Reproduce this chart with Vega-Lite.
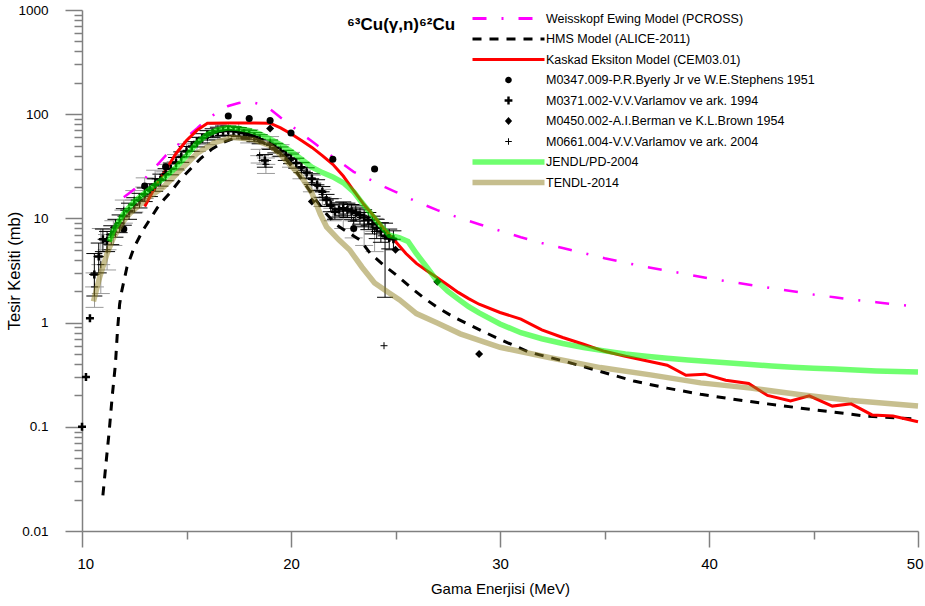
{
  "$schema": "https://vega.github.io/schema/vega-lite/v6.json",
  "width": 836,
  "height": 521,
  "autosize": {"type": "none"},
  "padding": {"left": 82, "top": 10, "right": 7, "bottom": 75},
  "background": "white",
  "config": {"view": {"stroke": null}, "font": "Liberation Sans"},
  "title": {"text": "⁶³Cu(γ,n)⁶²Cu", "anchor": "start", "frame": "group", "orient": "top", "dx": 265, "offset": -44, "baseline": "alphabetic", "font": "Liberation Sans", "fontSize": 17, "fontWeight": "bold", "color": "#000000"},
  "resolve": {"axis": {"x": "independent", "y": "independent"}},
  "params": [{"name": "sty", "value": {
    "Weisskopf Ewing Model (PCROSS)": {"sh": "M-6,0H6", "fi": "transparent", "so": 1, "da": [14, 15, 2, 15], "op": 1},
    "HMS Model (ALICE-2011)": {"sh": "M-6,0H6", "fi": "transparent", "so": 1, "da": [9, 8], "op": 1},
    "Kaskad Eksiton Model (CEM03.01)": {"sh": "M-6,0H6", "fi": "transparent", "so": 1, "da": [1, 0], "op": 1},
    "M0347.009-P.R.Byerly Jr ve W.E.Stephens 1951": {"sh": "M-0.55,0A0.55,0.55,0,1,1,0.55,0A0.55,0.55,0,1,1,-0.55,0Z", "fi": "#000000", "so": 0, "da": [1, 0], "op": 1},
    "M0371.002-V.V.Varlamov ve ark. 1994": {"sh": "M-0.65,-0.2H-0.2V-0.65H0.2V-0.2H0.65V0.2H0.2V0.65H-0.2V0.2H-0.65Z", "fi": "#000000", "so": 0, "da": [1, 0], "op": 1},
    "M0450.002-A.I.Berman ve K.L.Brown 1954": {"sh": "M0,-0.65L0.6,0L0,0.65L-0.6,0Z", "fi": "#000000", "so": 0, "da": [1, 0], "op": 1},
    "M0661.004-V.V.Varlamov ve ark. 2004": {"sh": "M-0.55,-0.085H-0.085V-0.55H0.085V-0.085H0.55V0.085H0.085V0.55H-0.085V0.085H-0.55Z", "fi": "#000000", "so": 0, "da": [1, 0], "op": 1},
    "JENDL/PD-2004": {"sh": "M-6,-0.46H6V0.46H-6Z", "fi": "#00ff00", "so": 0, "da": [1, 0], "op": 0.56},
    "TENDL-2014": {"sh": "M-6,-0.46H6V0.46H-6Z", "fi": "#8f7f1f", "so": 0, "da": [1, 0], "op": 0.5}
  }}],
  "datasets": {
    "W": [{"E":12,"s":16},{"E":12.5,"s":19},{"E":13,"s":24},{"E":13.5,"s":31},{"E":14,"s":40},{"E":14.5,"s":49},{"E":15,"s":60},{"E":15.5,"s":73},{"E":16,"s":90},{"E":16.5,"s":105},{"E":17,"s":120},{"E":17.5,"s":128},{"E":18,"s":132},{"E":18.5,"s":125},{"E":19,"s":112},{"E":19.5,"s":93},{"E":20,"s":78},{"E":20.5,"s":65},{"E":21,"s":55},{"E":21.5,"s":46},{"E":22,"s":39},{"E":22.5,"s":33},{"E":23,"s":28},{"E":23.5,"s":25},{"E":24,"s":22.5},{"E":24.5,"s":20},{"E":25,"s":18},{"E":26,"s":14.5},{"E":27,"s":12},{"E":28,"s":10.2},{"E":29,"s":8.8},{"E":30,"s":7.6},{"E":31,"s":6.6},{"E":32,"s":5.8},{"E":33,"s":5.2},{"E":34,"s":4.65},{"E":35,"s":4.15},{"E":36,"s":3.75},{"E":37,"s":3.42},{"E":38,"s":3.15},{"E":39,"s":2.9},{"E":40,"s":2.65},{"E":41,"s":2.47},{"E":42,"s":2.3},{"E":43,"s":2.14},{"E":44,"s":2.0},{"E":45,"s":1.86},{"E":46,"s":1.75},{"E":47,"s":1.65},{"E":48,"s":1.57},{"E":49,"s":1.49},{"E":50,"s":1.42}],
    "H": [{"E":11,"s":0.022},{"E":11.15,"s":0.045},{"E":11.3,"s":0.09},{"E":11.45,"s":0.2},{"E":11.6,"s":0.4},{"E":11.7,"s":0.85},{"E":11.8,"s":1.5},{"E":11.9,"s":2.0},{"E":12.15,"s":3.4},{"E":12.5,"s":5.3},{"E":12.9,"s":7.6},{"E":13.25,"s":9.8},{"E":13.6,"s":12.6},{"E":13.9,"s":15},{"E":14.2,"s":17.5},{"E":14.7,"s":23.5},{"E":15.2,"s":30},{"E":15.7,"s":38},{"E":16.2,"s":46},{"E":16.7,"s":53},{"E":17.2,"s":58},{"E":17.7,"s":60},{"E":18.2,"s":58},{"E":18.7,"s":53},{"E":19.2,"s":46},{"E":19.7,"s":38},{"E":20.2,"s":29},{"E":20.7,"s":21},{"E":21.2,"s":15},{"E":21.7,"s":11},{"E":22.2,"s":8.6},{"E":22.7,"s":7.4},{"E":23.3,"s":6.2},{"E":23.8,"s":4.6},{"E":24.4,"s":3.6},{"E":25.1,"s":2.8},{"E":25.7,"s":2.2},{"E":26.3,"s":1.76},{"E":27,"s":1.4},{"E":27.75,"s":1.14},{"E":28.5,"s":0.96},{"E":29.2,"s":0.82},{"E":30,"s":0.69},{"E":31.4,"s":0.52},{"E":33.2,"s":0.42},{"E":34.8,"s":0.34},{"E":36.4,"s":0.275},{"E":38,"s":0.235},{"E":39.6,"s":0.205},{"E":41.1,"s":0.185},{"E":42.8,"s":0.166},{"E":44.4,"s":0.151},{"E":45.9,"s":0.139},{"E":47.6,"s":0.126},{"E":49.5,"s":0.12},{"E":50,"s":0.118}],
    "K": [{"E":13,"s":13},{"E":13.5,"s":20},{"E":14,"s":29},{"E":14.5,"s":42},{"E":15,"s":56},{"E":15.5,"s":70},{"E":16,"s":82},{"E":17,"s":82.5},{"E":18,"s":82.5},{"E":19,"s":82},{"E":19.5,"s":74},{"E":20,"s":65},{"E":20.5,"s":56},{"E":21,"s":48},{"E":21.5,"s":40},{"E":22,"s":33},{"E":22.5,"s":25.5},{"E":23,"s":18.5},{"E":23.5,"s":13.5},{"E":24,"s":10.3},{"E":24.5,"s":7.7},{"E":25,"s":6},{"E":25.5,"s":4.6},{"E":26,"s":3.7},{"E":26.5,"s":3.15},{"E":27,"s":2.7},{"E":27.5,"s":2.3},{"E":28,"s":1.95},{"E":28.5,"s":1.7},{"E":29,"s":1.5},{"E":30,"s":1.25},{"E":31,"s":1.08},{"E":32,"s":0.85},{"E":33,"s":0.72},{"E":34,"s":0.62},{"E":35,"s":0.53},{"E":36,"s":0.475},{"E":37,"s":0.43},{"E":38,"s":0.39},{"E":38.9,"s":0.312},{"E":39.8,"s":0.32},{"E":40.8,"s":0.28},{"E":41.9,"s":0.26},{"E":42.8,"s":0.2},{"E":43.9,"s":0.177},{"E":44.8,"s":0.198},{"E":45.9,"s":0.158},{"E":46.8,"s":0.166},{"E":47.8,"s":0.13},{"E":48.8,"s":0.127},{"E":50,"s":0.112}],
    "J": [{"E":11.3,"s":6},{"E":11.5,"s":7.6},{"E":12,"s":11.2},{"E":12.5,"s":14.5},{"E":13,"s":17.5},{"E":13.5,"s":21},{"E":14,"s":25},{"E":14.5,"s":31},{"E":15,"s":40},{"E":15.5,"s":53},{"E":16,"s":64},{"E":16.5,"s":71},{"E":17,"s":74},{"E":17.5,"s":73},{"E":18,"s":70},{"E":18.5,"s":65},{"E":19,"s":58},{"E":19.5,"s":51},{"E":20,"s":44},{"E":20.5,"s":37},{"E":21,"s":31},{"E":21.5,"s":27.5},{"E":22,"s":25},{"E":22.5,"s":22},{"E":23,"s":18},{"E":23.3,"s":15},{"E":23.8,"s":11.2},{"E":24.3,"s":8.5},{"E":24.7,"s":6.9},{"E":25.2,"s":6.5},{"E":25.6,"s":6.0},{"E":26,"s":4.6},{"E":26.5,"s":3.4},{"E":27,"s":2.5},{"E":27.5,"s":2.0},{"E":28,"s":1.68},{"E":28.5,"s":1.42},{"E":29,"s":1.24},{"E":30,"s":0.97},{"E":31,"s":0.8},{"E":32,"s":0.7},{"E":33,"s":0.63},{"E":34,"s":0.575},{"E":35,"s":0.535},{"E":36,"s":0.5},{"E":37,"s":0.475},{"E":38,"s":0.455},{"E":39,"s":0.438},{"E":40,"s":0.423},{"E":41,"s":0.41},{"E":42,"s":0.396},{"E":43,"s":0.384},{"E":44,"s":0.373},{"E":45,"s":0.365},{"E":46,"s":0.358},{"E":47,"s":0.35},{"E":48,"s":0.344},{"E":49,"s":0.34},{"E":50,"s":0.335}],
    "T": [{"E":10.55,"s":1.6},{"E":10.85,"s":2.75},{"E":11.2,"s":4.6},{"E":11.5,"s":6.5},{"E":12,"s":9.5},{"E":12.3,"s":11.2},{"E":13.1,"s":15.5},{"E":13.9,"s":20},{"E":14.7,"s":29},{"E":15.5,"s":42},{"E":16.3,"s":53},{"E":17.2,"s":60},{"E":18.2,"s":57},{"E":19,"s":50},{"E":19.5,"s":41},{"E":20,"s":32},{"E":20.5,"s":25},{"E":21,"s":17.5},{"E":21.4,"s":11},{"E":21.7,"s":8.3},{"E":22.3,"s":6.2},{"E":22.8,"s":5},{"E":23.4,"s":3.4},{"E":24,"s":2.4},{"E":24.7,"s":1.92},{"E":25.2,"s":1.65},{"E":26,"s":1.22},{"E":27,"s":0.99},{"E":28.1,"s":0.78},{"E":30,"s":0.58},{"E":32.4,"s":0.46},{"E":34.8,"s":0.37},{"E":37.2,"s":0.315},{"E":39.6,"s":0.264},{"E":42,"s":0.235},{"E":44.4,"s":0.203},{"E":46.7,"s":0.18},{"E":50,"s":0.158}],
    "P1": [{"E":12,"s":7.9},{"E":13,"s":20.5},{"E":14,"s":31.3},{"E":17,"s":96},{"E":18,"s":91},{"E":19,"s":87},{"E":20,"s":66},{"E":22,"s":37},{"E":23,"s":8},{"E":24,"s":29.8}],
    "P3": [{"E":19,"s":73},{"E":21,"s":14.5},{"E":25,"s":5.0},{"E":27,"s":2.47},{"E":29,"s":0.5}],
    "P2": [{"E":10.0,"s":0.1},{"E":10.19,"s":0.3},{"E":10.38,"s":1.1},
      {"E":10.59,"s":2.9,"lo":1.8,"hi":4.6,"elo":10.34,"ehi":10.84},
      {"E":10.8,"s":4.3,"lo":3.0,"hi":5.8,"elo":10.55,"ehi":11.05},
      {"E":11.0,"s":6.3,"lo":4.8,"hi":7.9,"elo":10.75,"ehi":11.25},
      {"E":11.2,"s":6.1,"lo":4.8,"hi":7.5,"elo":10.95,"ehi":11.45},
      {"E":11.4,"s":7.0,"lo":5.6,"hi":8.5,"elo":11.15,"ehi":11.65},
      {"E":11.6,"s":8.2,"lo":6.6,"hi":9.8,"elo":11.35,"ehi":11.85},
      {"E":11.8,"s":9.0,"lo":7.3,"hi":10.8,"elo":11.55,"ehi":12.05},
      {"E":12.0,"s":10.5,"lo":8.6,"hi":12.4,"elo":11.7,"ehi":12.3},
      {"E":12.25,"s":11.8,"lo":9.8,"hi":14,"elo":11.95,"ehi":12.55},
      {"E":12.5,"s":13.5,"lo":11.3,"hi":15.8,"elo":12.2,"ehi":12.8},
      {"E":12.75,"s":15,"lo":12.6,"hi":17.4,"elo":12.45,"ehi":13.05},
      {"E":13.0,"s":17,"lo":14.5,"hi":19.6,"elo":12.7,"ehi":13.3},
      {"E":13.25,"s":18.8,"lo":16.2,"hi":21.5,"elo":12.95,"ehi":13.55},
      {"E":13.5,"s":21,"lo":18.2,"hi":24,"elo":13.2,"ehi":13.8},
      {"E":13.75,"s":23.5,"lo":20.4,"hi":26.6,"elo":13.45,"ehi":14.05},
      {"E":14.0,"s":26.5,"lo":23,"hi":30,"elo":13.7,"ehi":14.3},
      {"E":14.25,"s":30,"lo":26.2,"hi":34,"elo":13.95,"ehi":14.55},
      {"E":14.5,"s":34,"lo":29.8,"hi":38.4,"elo":14.2,"ehi":14.8},
      {"E":14.75,"s":39,"lo":34.5,"hi":43.5,"elo":14.45,"ehi":15.05},
      {"E":15.0,"s":44,"lo":39,"hi":49,"elo":14.7,"ehi":15.3},
      {"E":15.25,"s":49,"lo":44,"hi":54.5,"elo":14.95,"ehi":15.55},
      {"E":15.5,"s":54,"lo":48.5,"hi":60,"elo":15.2,"ehi":15.8},
      {"E":15.75,"s":59,"lo":53,"hi":65,"elo":15.45,"ehi":16.05},
      {"E":16.0,"s":63,"lo":56.5,"hi":69.5,"elo":15.7,"ehi":16.3},
      {"E":16.25,"s":66,"lo":59.5,"hi":72.5,"elo":15.95,"ehi":16.55},
      {"E":16.5,"s":68,"lo":61.5,"hi":75,"elo":16.2,"ehi":16.8},
      {"E":16.75,"s":69.5,"lo":62.5,"hi":77,"elo":16.45,"ehi":17.05},
      {"E":17.0,"s":70,"lo":63,"hi":77,"elo":16.7,"ehi":17.3},
      {"E":17.25,"s":69,"lo":62,"hi":76,"elo":16.95,"ehi":17.55},
      {"E":17.5,"s":67.5,"lo":61,"hi":74.5,"elo":17.2,"ehi":17.8},
      {"E":17.75,"s":65.5,"lo":59,"hi":72,"elo":17.45,"ehi":18.05},
      {"E":18.0,"s":63,"lo":57,"hi":69.5,"elo":17.7,"ehi":18.3},
      {"E":18.25,"s":60.5,"lo":54.5,"hi":66.5,"elo":17.95,"ehi":18.55},
      {"E":18.5,"s":57.5,"lo":52,"hi":63.5,"elo":18.2,"ehi":18.8},
      {"E":18.75,"s":36,"lo":31,"hi":41,"elo":18.45,"ehi":19.05},
      {"E":19.0,"s":51,"lo":46,"hi":56.5,"elo":18.7,"ehi":19.3},
      {"E":19.25,"s":47.5,"lo":42.5,"hi":52.5,"elo":18.95,"ehi":19.55},
      {"E":19.5,"s":44,"lo":39.5,"hi":48.5,"elo":19.2,"ehi":19.8},
      {"E":19.75,"s":40.5,"lo":36,"hi":45,"elo":19.45,"ehi":20.05},
      {"E":20.0,"s":37.5,"lo":33.5,"hi":41.5,"elo":19.7,"ehi":20.3},
      {"E":20.25,"s":34,"lo":30.3,"hi":37.8,"elo":19.95,"ehi":20.55},
      {"E":20.5,"s":31,"lo":27.5,"hi":34.5,"elo":20.2,"ehi":20.8},
      {"E":20.75,"s":27.5,"lo":24.4,"hi":30.6,"elo":20.45,"ehi":21.05},
      {"E":21.0,"s":24,"lo":21.2,"hi":26.8,"elo":20.65,"ehi":21.35},
      {"E":21.25,"s":21,"lo":18.5,"hi":23.5,"elo":20.9,"ehi":21.6},
      {"E":21.5,"s":18,"lo":15.8,"hi":20.2,"elo":21.15,"ehi":21.85},
      {"E":21.7,"s":15,"lo":13,"hi":17,"elo":21.35,"ehi":22.05},
      {"E":21.9,"s":13.5,"lo":11.6,"hi":15.4,"elo":21.55,"ehi":22.25},
      {"E":22.1,"s":11.6,"lo":9.8,"hi":13.5,"elo":21.75,"ehi":22.45},
      {"E":22.3,"s":12.2,"lo":10.3,"hi":14.1,"elo":21.95,"ehi":22.65},
      {"E":22.5,"s":12.5,"lo":10.6,"hi":14.4,"elo":22.15,"ehi":22.85},
      {"E":22.7,"s":12.1,"lo":10.2,"hi":14,"elo":22.35,"ehi":23.05},
      {"E":22.9,"s":11.7,"lo":9.8,"hi":13.6,"elo":22.55,"ehi":23.25},
      {"E":23.1,"s":11.3,"lo":9.4,"hi":13.2,"elo":22.75,"ehi":23.45},
      {"E":23.3,"s":10.7,"lo":8.8,"hi":12.6,"elo":22.95,"ehi":23.65},
      {"E":23.5,"s":10.2,"lo":8.3,"hi":12.1,"elo":23.15,"ehi":23.85},
      {"E":23.7,"s":9.6,"lo":7.8,"hi":11.4,"elo":23.35,"ehi":24.05},
      {"E":23.9,"s":8.8,"lo":7.1,"hi":10.5,"elo":23.55,"ehi":24.25},
      {"E":24.1,"s":8.1,"lo":6.4,"hi":9.8,"elo":23.75,"ehi":24.45},
      {"E":24.3,"s":7.5,"lo":5.9,"hi":9.1,"elo":23.95,"ehi":24.65},
      {"E":24.5,"s":6.8,"lo":1.75,"hi":9.0,"elo":24.15,"ehi":24.85},
      {"E":24.7,"s":6.5,"lo":5.1,"hi":7.9,"elo":24.35,"ehi":25.05},
      {"E":24.9,"s":6.3,"lo":5.0,"hi":7.6,"elo":24.55,"ehi":25.25}],
    "P4": [{"E":10.6,"s":2.2,"lo":1.4,"hi":3.0,"elo":10.15,"ehi":11.05},
      {"E":10.9,"s":3.6,"lo":1.9,"hi":8.0,"elo":10.45,"ehi":11.35},
      {"E":11.2,"s":5.0,"lo":3.2,"hi":7.0,"elo":10.75,"ehi":11.65},
      {"E":11.5,"s":7.5,"lo":5.5,"hi":9.5,"elo":11.05,"ehi":11.95},
      {"E":12.0,"s":12,"lo":9,"hi":15,"elo":11.55,"ehi":12.45},
      {"E":12.5,"s":15,"lo":11.5,"hi":18.5,"elo":12.05,"ehi":12.95},
      {"E":13.0,"s":20,"lo":15.5,"hi":24.5,"elo":12.55,"ehi":13.45},
      {"E":13.5,"s":24,"lo":19.5,"hi":29,"elo":13.05,"ehi":13.95},
      {"E":14.0,"s":28,"lo":23,"hi":33,"elo":13.55,"ehi":14.45},
      {"E":14.5,"s":35,"lo":29,"hi":41,"elo":14.05,"ehi":14.95},
      {"E":15.0,"s":45,"lo":38,"hi":52,"elo":14.55,"ehi":15.45},
      {"E":15.5,"s":52,"lo":44,"hi":60,"elo":15.05,"ehi":15.95},
      {"E":16.0,"s":60,"lo":51,"hi":70,"elo":15.55,"ehi":16.45},
      {"E":16.5,"s":67,"lo":57,"hi":80,"elo":16.05,"ehi":16.95},
      {"E":17.0,"s":69,"lo":58,"hi":82,"elo":16.55,"ehi":17.45},
      {"E":17.5,"s":67,"lo":57,"hi":82,"elo":17.05,"ehi":17.95},
      {"E":18.0,"s":62,"lo":53,"hi":71,"elo":17.55,"ehi":18.45},
      {"E":18.5,"s":40,"lo":34,"hi":46,"elo":18.05,"ehi":18.95},
      {"E":18.8,"s":33,"lo":27,"hi":38,"elo":18.35,"ehi":19.25},
      {"E":19.0,"s":54,"lo":47,"hi":61,"elo":18.55,"ehi":19.45},
      {"E":19.5,"s":45,"lo":39,"hi":51,"elo":19.05,"ehi":19.95},
      {"E":20.0,"s":37,"lo":31,"hi":43,"elo":19.55,"ehi":20.45},
      {"E":20.5,"s":29,"lo":24,"hi":34,"elo":20.05,"ehi":20.95},
      {"E":21.0,"s":22,"lo":18,"hi":26,"elo":20.55,"ehi":21.45},
      {"E":21.5,"s":16,"lo":13,"hi":19,"elo":21.05,"ehi":21.95},
      {"E":22.0,"s":12.5,"lo":9.5,"hi":15.5,"elo":21.55,"ehi":22.45},
      {"E":22.5,"s":11,"lo":8,"hi":14,"elo":22.05,"ehi":22.95},
      {"E":23.0,"s":9.5,"lo":6.5,"hi":12.5,"elo":22.55,"ehi":23.45},
      {"E":23.5,"s":8.5,"lo":5.5,"hi":11.5,"elo":23.05,"ehi":23.95},
      {"E":24.0,"s":7.5,"lo":4.8,"hi":10,"elo":23.55,"ehi":24.45},
      {"E":24.45,"s":0.6}]
  },
  "layer": [
    {"data": {"name": "P4"}, "transform": [{"filter": "isValid(datum.lo)"}],
     "mark": {"type": "rule", "color": "#9a9a9a", "strokeWidth": 1},
     "encoding": {
       "x": {"field": "E", "type": "quantitative",
             "scale": {"domain": [10, 50], "nice": false, "zero": false},
             "axis": {"orient": "bottom", "values": [15, 25, 35, 45], "tickSize": 8, "labels": false, "title": null,
                      "grid": false, "domain": true, "domainColor": "#808080", "tickColor": "#808080", "domainWidth": 1.5, "tickWidth": 1.5}},
       "y": {"field": "lo", "type": "quantitative",
             "scale": {"type": "log", "domain": [0.01, 1000], "nice": false},
             "axis": {"orient": "left", "values": [0.02,0.03,0.04,0.05,0.06,0.07,0.08,0.09,0.2,0.3,0.4,0.5,0.6,0.7,0.8,0.9,2,3,4,5,6,7,8,9,20,30,40,50,60,70,80,90,200,300,400,500,600,700,800,900],
                      "tickSize": 8, "labels": false, "title": null,
                      "grid": false, "domain": true, "domainColor": "#808080", "tickColor": "#808080", "domainWidth": 1.5, "tickWidth": 1.5}},
       "y2": {"field": "hi"}}},
    {"data": {"name": "P4"}, "transform": [{"filter": "isValid(datum.lo)"}],
     "mark": {"type": "rule", "color": "#9a9a9a", "strokeWidth": 1},
     "encoding": {
       "x": {"field": "elo", "type": "quantitative",
             "axis": {"orient": "bottom", "values": [10, 20, 30, 40, 50], "tickSize": 16, "title": "Gama Enerjisi (MeV)",
                      "grid": false, "domain": false, "tickColor": "#808080", "tickWidth": 1.5,
                      "labelFont": "Liberation Sans", "labelFontSize": 15, "labelColor": "#000000", "labelPadding": 9,
                      "labelFlush": true, "labelFlushOffset": 5, "labelOverlap": false,
                      "titleFont": "Liberation Sans", "titleFontSize": 15, "titleFontWeight": "normal", "titleColor": "#000000", "titlePadding": 10}},
       "x2": {"field": "ehi"},
       "y": {"field": "s", "type": "quantitative",
             "axis": {"orient": "left", "values": [0.01, 0.1, 1, 10, 100, 1000], "tickSize": 17, "title": "Tesir Kesiti (mb)",
                      "labelExpr": "'' + datum.value",
                      "grid": false, "domain": false, "tickColor": "#808080", "tickWidth": 1.5,
                      "labelFont": "Liberation Sans", "labelFontSize": 13.5, "labelColor": "#000000", "labelPadding": 17,
                      "labelFlush": false, "labelOverlap": false,
                      "titleFont": "Liberation Sans", "titleFontSize": 16.5, "titleFontWeight": "normal", "titleColor": "#000000", "titlePadding": -5}}}},
    {"data": {"name": "P4"}, "transform": [{"filter": "isValid(datum.lo)"}],
     "mark": {"type": "tick", "orient": "horizontal", "size": 18, "thickness": 1, "color": "#9a9a9a", "opacity": 1},
     "encoding": {"x": {"field": "E", "type": "quantitative", "axis": null}, "y": {"field": "lo", "type": "quantitative", "axis": null}}},
    {"data": {"name": "P4"}, "transform": [{"filter": "isValid(datum.lo)"}],
     "mark": {"type": "tick", "orient": "horizontal", "size": 18, "thickness": 1, "color": "#9a9a9a", "opacity": 1},
     "encoding": {"x": {"field": "E", "type": "quantitative", "axis": null}, "y": {"field": "hi", "type": "quantitative", "axis": null}}},
    {"data": {"name": "P2"}, "transform": [{"filter": "isValid(datum.lo)"}],
     "mark": {"type": "rule", "color": "#000000", "strokeWidth": 1},
     "encoding": {"x": {"field": "E", "type": "quantitative", "axis": null}, "y": {"field": "lo", "type": "quantitative", "axis": null}, "y2": {"field": "hi"}}},
    {"data": {"name": "P2"}, "transform": [{"filter": "isValid(datum.lo)"}],
     "mark": {"type": "rule", "color": "#000000", "strokeWidth": 1},
     "encoding": {"x": {"field": "elo", "type": "quantitative", "axis": null}, "x2": {"field": "ehi"},
                  "y": {"field": "s", "type": "quantitative", "axis": null}}},
    {"data": {"name": "P2"}, "transform": [{"filter": "isValid(datum.lo)"}],
     "mark": {"type": "tick", "orient": "horizontal", "size": 16, "thickness": 1, "color": "#000000", "opacity": 1},
     "encoding": {"x": {"field": "E", "type": "quantitative", "axis": null}, "y": {"field": "lo", "type": "quantitative", "axis": null}}},
    {"data": {"name": "P2"}, "transform": [{"filter": "isValid(datum.lo)"}],
     "mark": {"type": "tick", "orient": "horizontal", "size": 16, "thickness": 1, "color": "#000000", "opacity": 1},
     "encoding": {"x": {"field": "E", "type": "quantitative", "axis": null}, "y": {"field": "hi", "type": "quantitative", "axis": null}}},
    {"data": {"name": "H"},
     "mark": {"type": "line", "strokeWidth": 3, "strokeDash": [9, 8]},
     "encoding": {"x": {"field": "E", "type": "quantitative", "axis": null}, "y": {"field": "s", "type": "quantitative", "axis": null},
       "color": {"datum": "HMS Model (ALICE-2011)", "type": "nominal",
         "scale": {"domain": ["Weisskopf Ewing Model (PCROSS)", "HMS Model (ALICE-2011)", "Kaskad Eksiton Model (CEM03.01)", "M0347.009-P.R.Byerly Jr ve W.E.Stephens 1951", "M0371.002-V.V.Varlamov ve ark. 1994", "M0450.002-A.I.Berman ve K.L.Brown 1954", "M0661.004-V.V.Varlamov ve ark. 2004", "JENDL/PD-2004", "TENDL-2014"],
                   "range": ["#ff00ff", "#000000", "#ff0000", "#000000", "#000000", "#000000", "#000000", "#00ff00", "#8f7f1f"]},
         "legend": {"orient": "none", "legendX": 419, "legendY": 1, "title": null, "padding": 0,
           "symbolType": "M-6,0H6", "symbolSize": 144, "symbolStrokeWidth": 2.8, "labelFont": "Liberation Sans", "labelFontSize": 12.5, "labelColor": "#000000",
           "labelOffset": 30, "labelLimit": 500, "rowPadding": 6.5,
           "encode": {"symbols": {"update": {
             "shape": {"signal": "sty[datum.value] ? sty[datum.value].sh : 'M-6,0H6'"},
             "fill": {"signal": "sty[datum.value] ? sty[datum.value].fi : 'transparent'"},
             "strokeOpacity": {"signal": "sty[datum.value] ? sty[datum.value].so : 1"},
             "strokeDash": {"signal": "sty[datum.value] ? sty[datum.value].da : [1, 0]"},
             "opacity": {"signal": "sty[datum.value] ? sty[datum.value].op : 1"}}}}}}}},
    {"data": {"name": "W"},
     "mark": {"type": "line", "strokeWidth": 2.5, "strokeDash": [14, 15, 2, 15]},
     "encoding": {"x": {"field": "E", "type": "quantitative", "axis": null}, "y": {"field": "s", "type": "quantitative", "axis": null},
       "color": {"datum": "Weisskopf Ewing Model (PCROSS)", "type": "nominal"}}},
    {"data": {"name": "K"},
     "mark": {"type": "line", "strokeWidth": 3},
     "encoding": {"x": {"field": "E", "type": "quantitative", "axis": null}, "y": {"field": "s", "type": "quantitative", "axis": null},
       "color": {"datum": "Kaskad Eksiton Model (CEM03.01)", "type": "nominal"}}},
    {"data": {"name": "P4"},
     "mark": {"type": "point", "shape": "M-1,0H1M0,-1V1", "size": 49, "filled": false, "strokeWidth": 1, "color": "#000000", "opacity": 1},
     "encoding": {"x": {"field": "E", "type": "quantitative", "axis": null}, "y": {"field": "s", "type": "quantitative", "axis": null}}},
    {"data": {"name": "P2"},
     "mark": {"type": "point", "shape": "M-1,0H1M0,-1V1", "size": 64, "filled": false, "strokeWidth": 2.5, "color": "#000000", "opacity": 1},
     "encoding": {"x": {"field": "E", "type": "quantitative", "axis": null}, "y": {"field": "s", "type": "quantitative", "axis": null}}},
    {"data": {"name": "P3"},
     "mark": {"type": "point", "shape": "diamond", "size": 64, "filled": true, "color": "#000000", "opacity": 1},
     "encoding": {"x": {"field": "E", "type": "quantitative", "axis": null}, "y": {"field": "s", "type": "quantitative", "axis": null}}},
    {"data": {"name": "P1"},
     "mark": {"type": "point", "shape": "circle", "size": 50, "filled": true, "color": "#000000", "opacity": 1},
     "encoding": {"x": {"field": "E", "type": "quantitative", "axis": null}, "y": {"field": "s", "type": "quantitative", "axis": null}}},
    {"data": {"name": "T"},
     "mark": {"type": "line", "strokeWidth": 5.5, "opacity": 0.5},
     "encoding": {"x": {"field": "E", "type": "quantitative", "axis": null}, "y": {"field": "s", "type": "quantitative", "axis": null},
       "color": {"datum": "TENDL-2014", "type": "nominal"}}},
    {"data": {"name": "J"},
     "mark": {"type": "line", "strokeWidth": 5.5, "opacity": 0.56},
     "encoding": {"x": {"field": "E", "type": "quantitative", "axis": null}, "y": {"field": "s", "type": "quantitative", "axis": null},
       "color": {"datum": "JENDL/PD-2004", "type": "nominal"}}}
  ]
}
